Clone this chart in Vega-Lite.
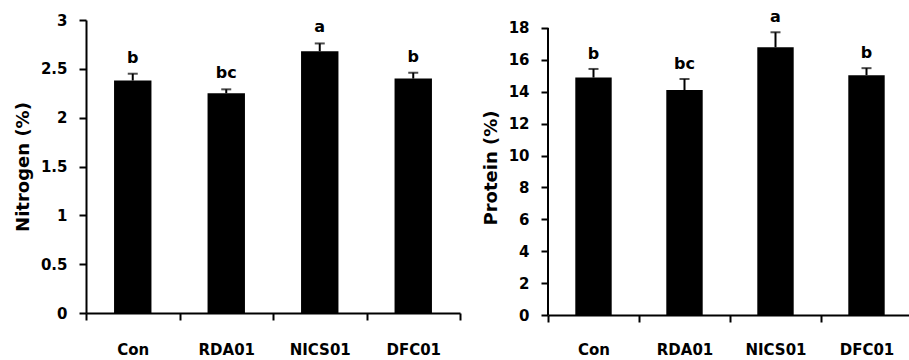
{
  "$schema": "https://vega.github.io/schema/vega-lite/v6.json",
  "padding": {"left": 14, "top": 9, "right": 0, "bottom": 0},
  "background": "white",
  "config": {
    "font": "DejaVu Sans",
    "view": {"stroke": null},
    "concat": {"spacing": 21},
    "axis": {
      "domainColor": "black", "domainWidth": 2, "tickColor": "black", "tickWidth": 2, "tickSize": 7,
      "labelColor": "black", "labelFont": "DejaVu Sans", "labelFontWeight": "bold", "labelFontSize": 15, "labelOverlap": false,
      "titleFont": "DejaVu Sans", "titleFontWeight": "bold", "titleFontSize": 18, "titleColor": "black", "grid": false
    }
  },
  "datasets": {
    "nitrogen": [
      {"treatment": "Con", "mean": 2.38, "upper": 2.45, "letter": "b"},
      {"treatment": "RDA01", "mean": 2.25, "upper": 2.29, "letter": "bc"},
      {"treatment": "NICS01", "mean": 2.68, "upper": 2.76, "letter": "a"},
      {"treatment": "DFC01", "mean": 2.40, "upper": 2.46, "letter": "b"}
    ],
    "protein": [
      {"treatment": "Con", "mean": 14.89, "upper": 15.43, "letter": "b"},
      {"treatment": "RDA01", "mean": 14.11, "upper": 14.80, "letter": "bc"},
      {"treatment": "NICS01", "mean": 16.79, "upper": 17.73, "letter": "a"},
      {"treatment": "DFC01", "mean": 15.04, "upper": 15.48, "letter": "b"}
    ]
  },
  "hconcat": [
    {
      "width": 374, "height": 293,
      "data": {"name": "nitrogen"},
      "encoding": {
        "x": {"field": "treatment", "type": "nominal", "sort": null,
              "scale": {"paddingInner": 0, "paddingOuter": 0},
              "axis": {"title": null, "labelAngle": 0, "tickBand": "extent", "labelPadding": 22}}
      },
      "layer": [
        {"mark": {"type": "rule", "strokeWidth": 2, "color": "black"},
         "encoding": {"y": {"field": "mean", "type": "quantitative", "title": "Nitrogen (%)"}, "y2": {"field": "upper"}}},
        {"mark": {"type": "tick", "orient": "horizontal", "size": 10, "thickness": 2, "color": "black"},
         "encoding": {"y": {"field": "upper", "type": "quantitative", "title": "Nitrogen (%)"}}},
        {"mark": {"type": "bar", "color": "black", "width": {"band": 0.4}},
         "encoding": {"y": {"field": "mean", "type": "quantitative", "title": "Nitrogen (%)",
                            "scale": {"domain": [0, 3], "nice": false, "zero": true},
                            "axis": {"values": [0, 0.5, 1, 1.5, 2, 2.5, 3], "tickCount": 12, "format": "~g", "labelPadding": 12, "titlePadding": 8}}}},
        {"mark": {"type": "text", "baseline": "alphabetic", "dy": -11, "fontWeight": "bold", "fontSize": 16, "font": "DejaVu Sans", "color": "black"},
         "encoding": {"y": {"field": "upper", "type": "quantitative", "title": "Nitrogen (%)"}, "text": {"field": "letter"}}}
      ]
    },
    {
      "width": 364, "height": 295,
      "data": {"name": "protein"},
      "encoding": {
        "x": {"field": "treatment", "type": "nominal", "sort": null,
              "scale": {"paddingInner": 0, "paddingOuter": 0},
              "axis": {"title": null, "labelAngle": 0, "tickBand": "extent", "labelPadding": 20}}
      },
      "layer": [
        {"mark": {"type": "rule", "strokeWidth": 2, "color": "black"},
         "encoding": {"y": {"field": "mean", "type": "quantitative", "title": "Protein (%)"}, "y2": {"field": "upper"}}},
        {"mark": {"type": "tick", "orient": "horizontal", "size": 10, "thickness": 2, "color": "black"},
         "encoding": {"y": {"field": "upper", "type": "quantitative", "title": "Protein (%)"}}},
        {"mark": {"type": "bar", "color": "black", "width": {"band": 0.4}},
         "encoding": {"y": {"field": "mean", "type": "quantitative", "title": "Protein (%)",
                            "scale": {"domain": [0, 18.5], "nice": false, "zero": true},
                            "axis": {"values": [0, 2, 4, 6, 8, 10, 12, 14, 16, 18], "tickCount": 20, "domain": false, "labelPadding": 12, "titlePadding": 8}}}},
        {"data": {"values": [{"lo": 0, "hi": 18}]},
         "mark": {"type": "rule", "strokeWidth": 2, "color": "black"},
         "encoding": {"x": {"datum": "Con", "bandPosition": 0},
                      "y": {"field": "lo", "type": "quantitative", "title": "Protein (%)"}, "y2": {"field": "hi"}}},
        {"mark": {"type": "text", "baseline": "alphabetic", "dy": -10, "fontWeight": "bold", "fontSize": 16, "font": "DejaVu Sans", "color": "black"},
         "encoding": {"y": {"field": "upper", "type": "quantitative", "title": "Protein (%)"}, "text": {"field": "letter"}}}
      ]
    }
  ]
}
